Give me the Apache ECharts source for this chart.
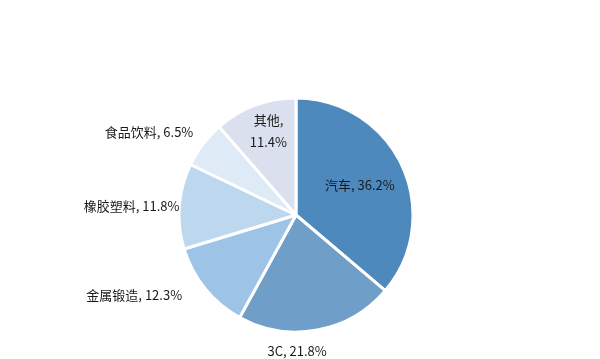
<!DOCTYPE html>
<html>
<head>
<meta charset="utf-8">
<script src="https://cdn.jsdelivr.net/npm/echarts@6/dist/echarts.min.js"></script>
<style>html,body{margin:0;padding:0;background:#fff;}#c{width:600px;height:359px;}</style>
</head>
<body>
<div id="c"></div>
<script>
const categories = ['汽车', '3C', '金属锻造', '橡胶塑料', '食品饮料', '其他'];
const values = [36.2, 21.8, 12.3, 11.8, 6.5, 11.4];
const colors = ['#4e89bd', '#6f9fc9', '#9dc3e6', '#bdd7ee', '#deebf7', '#dae0ee'];
const labelOffsets = [[8, -4], [-10, 76], [-114, 41], [-103, -4], [-98, -46], [-6, -26]];
const labelBreak = [false, false, false, false, false, true];

const chart = echarts.init(document.getElementById('c'));
chart.setOption({
  animation: false,
  series: [{
    type: 'pie',
    center: [296, 215],
    radius: [0, 117],
    startAngle: 90,
    clockwise: true,
    silent: true,
    itemStyle: { borderColor: '#ffffff', borderWidth: 3 },
    labelLine: { show: false },
    data: categories.map((name, i) => ({
      name: name,
      value: values[i],
      itemStyle: { color: colors[i] },
      label: {
        show: true,
        position: 'inside',
        offset: labelOffsets[i],
        formatter: name + (labelBreak[i] ? ',\n' : ', ') + values[i].toFixed(1) + '%',
        color: '#1a1a1a',
        fontSize: 13,
        lineHeight: 22,
        fontFamily: 'Noto Sans CJK SC, Noto Sans, sans-serif'
      }
    }))
  }]
});
</script>
</body>
</html>
